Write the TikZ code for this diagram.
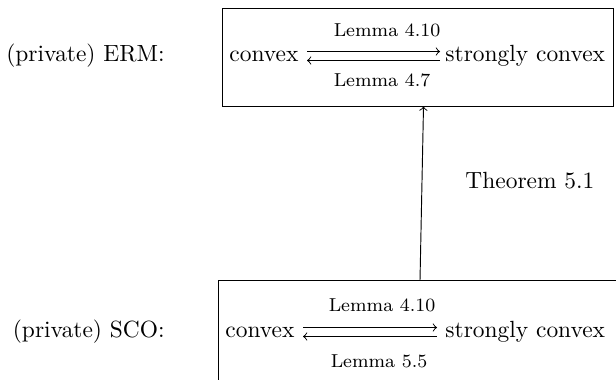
\documentclass[tikz,border=0pt]{standalone}
\begin{document}
\begin{tikzpicture}[x=0.427pt,y=-0.427pt,>=to,
  box/.style={draw, line width=0.4pt, inner sep=0pt},
  txt/.style={inner sep=0pt},
  lbl/.style={inner sep=0pt, font=\footnotesize},
  conn/.style={->, line width=0.4pt}]
\useasboundingbox (0,0) rectangle (616,379);
\clip (0,0) rectangle (616,379);
% boxes
\node[box, minimum width={391*0.427pt}, minimum height={98*0.427pt}] (ermbox) at (417.5,57.5) {};
\node[box, minimum width={404*0.427pt}, minimum height={110*0.427pt}] (scobox) at (420,335.5) {};
% left labels
\node[txt, anchor=base east] (ermlbl) at (165,61) {(private) ERM:};
\node[txt, anchor=base east] (scolbl) at (165,337) {(private) SCO:};
% ERM row
\node[txt, anchor=base west] (ermc) at (229,61) {convex};
\node[txt, anchor=base west] (ermsc) at (445,61) {strongly convex};
\coordinate (e1a) at (307,51.5);
\coordinate (e1b) at (440,51.5);
\coordinate (e2a) at (307,60.5);
\coordinate (e2b) at (440,60.5);
\draw[conn] (e1a) -- (e1b);
\draw[conn] (e2b) -- (e2a);
\node[lbl, anchor=base] (l410a) at (387,36) {Lemma 4.10};
\node[lbl, anchor=base] (l47) at (382,86) {Lemma 4.7};
% SCO row
\node[txt, anchor=base west] (scoc) at (225,337) {convex};
\node[txt, anchor=base west] (scosc) at (445,337) {strongly convex};
\coordinate (s1a) at (303,327.5);
\coordinate (s1b) at (437,327.5);
\coordinate (s2a) at (303,336.5);
\coordinate (s2b) at (437,336.5);
\draw[conn] (s1a) -- (s1b);
\draw[conn] (s2b) -- (s2a);
\node[lbl, anchor=base] (l410b) at (382,311) {Lemma 4.10};
\node[lbl, anchor=base] (l55) at (379,367) {Lemma 5.5};
% theorem arrow
\coordinate (tfrom) at (420,280.5);
\coordinate (tto) at (423.5,106.5);
\draw[conn] (tfrom) -- (tto);
\node[txt, anchor=base west] (thm) at (465,188) {Theorem 5.1};
\end{tikzpicture}
\end{document}
